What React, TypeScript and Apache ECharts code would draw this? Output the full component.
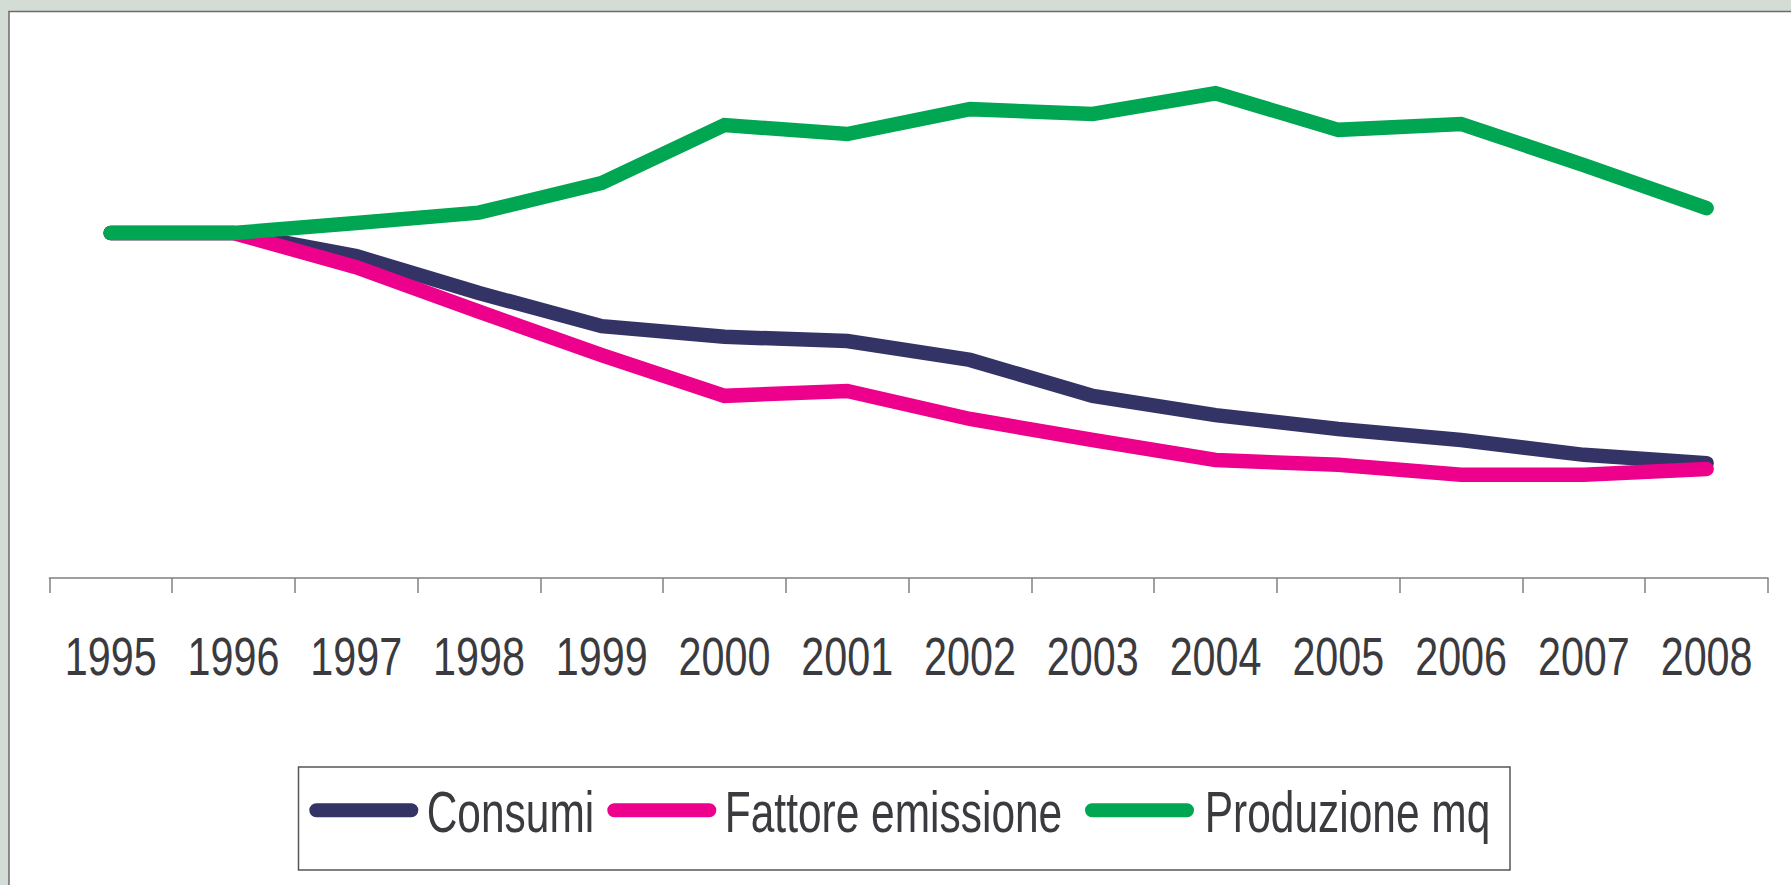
import React, { useEffect, useRef } from "react";
import * as echarts from "echarts";

const years = ["1995", "1996", "1997", "1998", "1999", "2000", "2001", "2002", "2003", "2004", "2005", "2006", "2007", "2008"];
const consumi = [100, 100, 93.3, 82.6, 73.0, 69.9, 68.7, 63.2, 52.8, 47.2, 43.2, 40.0, 35.7, 33.3];
const fattoreEmissione = [100, 100, 90.1, 77.2, 64.6, 52.8, 54.2, 46.1, 40.0, 34.2, 32.8, 29.9, 29.9, 31.6];
const produzioneMq = [100, 100, 102.9, 105.9, 114.5, 131.3, 128.7, 135.9, 134.5, 140.5, 129.9, 131.6, 119.7, 107.2];

const seriesNames = ["Consumi", "Fattore emissione", "Produzione mq"];
const seriesColors = ["#333366", "#ec008c", "#00a651"];

const FONT = '"Liberation Sans", Arial, sans-serif';
const TEXT_COLOR = "#3b3b3f";

// legend layout (left edge of each icon / text)
const legendIconLeft = [309.3, 607.3, 1085];
const legendTextLeft = [426.7, 724.8, 1204.7];

export default function App() {
  const ref = useRef<HTMLDivElement>(null);

  useEffect(() => {
    if (!ref.current) return;
    const chart = echarts.init(ref.current, undefined, { renderer: "svg" });
    const data = [consumi, fattoreEmissione, produzioneMq];

    const baseGraphics: any[] = [
      {
        id: "frame",
        type: "rect",
        z: -1,
        silent: true,
        shape: { x: 9, y: 11.5, width: 1800, height: 900 },
        style: { fill: "#ffffff", stroke: "#6b6b6b", lineWidth: 1.5 },
      },
      {
        id: "legendBox",
        type: "rect",
        silent: true,
        shape: { x: 298.5, y: 767, width: 1211.5, height: 103 },
        style: { fill: "none", stroke: "#555555", lineWidth: 1.5 },
      },
    ];

    seriesNames.forEach((name, i) => {
      baseGraphics.push({
        id: "legIcon" + i,
        type: "rect",
        silent: true,
        shape: { x: legendIconLeft[i], y: 803.3, width: 109, height: 14, r: 7 },
        style: { fill: seriesColors[i] },
      });
      baseGraphics.push({
        id: "legText" + i,
        type: "text",
        silent: true,
        x: legendTextLeft[i],
        y: 813,
        scaleX: 0.745,
        style: {
          text: name,
          fontSize: 57,
          fontFamily: FONT,
          fill: TEXT_COLOR,
          align: "left",
          verticalAlign: "middle",
        },
      });
    });

    const option = {
      animation: false,
      backgroundColor: "#d3dcd5",
      textStyle: { fontFamily: FONT },
      graphic: baseGraphics,
      grid: { left: 49.3, right: 23, top: 60.5, bottom: 307, containLabel: false },
      xAxis: {
        type: "category",
        data: years,
        boundaryGap: true,
        axisLine: { show: true, lineStyle: { color: "#808080", width: 1.5 } },
        axisTick: { show: true, length: 15, lineStyle: { color: "#808080", width: 1.5 } },
        axisLabel: { show: false },
        splitLine: { show: false },
      },
      yAxis: {
        type: "value",
        min: 0,
        max: 150,
        show: false,
        splitLine: { show: false },
      },
      series: seriesNames.map((name, i) => ({
        name,
        type: "line",
        data: data[i],
        showSymbol: false,
        symbol: "none",
        itemStyle: { color: seriesColors[i] },
        lineStyle: { color: seriesColors[i], width: 14.5, cap: "round", join: "miter" },
        z: 2 + i,
      })),
    };
    chart.setOption(option);

    // axis labels, positioned through the category axis scale, drawn condensed
    const labelGraphics = years.map((year, i) => {
      const x = chart.convertToPixel({ xAxisIndex: 0 }, i) as number;
      return {
        id: "xLabel" + i,
        type: "text",
        silent: true,
        x,
        y: 656,
        scaleX: 0.765,
        style: {
          text: year,
          fontSize: 54,
          fontFamily: FONT,
          fill: TEXT_COLOR,
          align: "center",
          verticalAlign: "middle",
        },
      };
    });
    chart.setOption({ graphic: [...baseGraphics, ...labelGraphics] });

    return () => chart.dispose();
  }, []);

  return (
    <div
      ref={ref}
      style={{ position: "absolute", left: 0, top: 0, width: 1791, height: 885 }}
    />
  );
}
